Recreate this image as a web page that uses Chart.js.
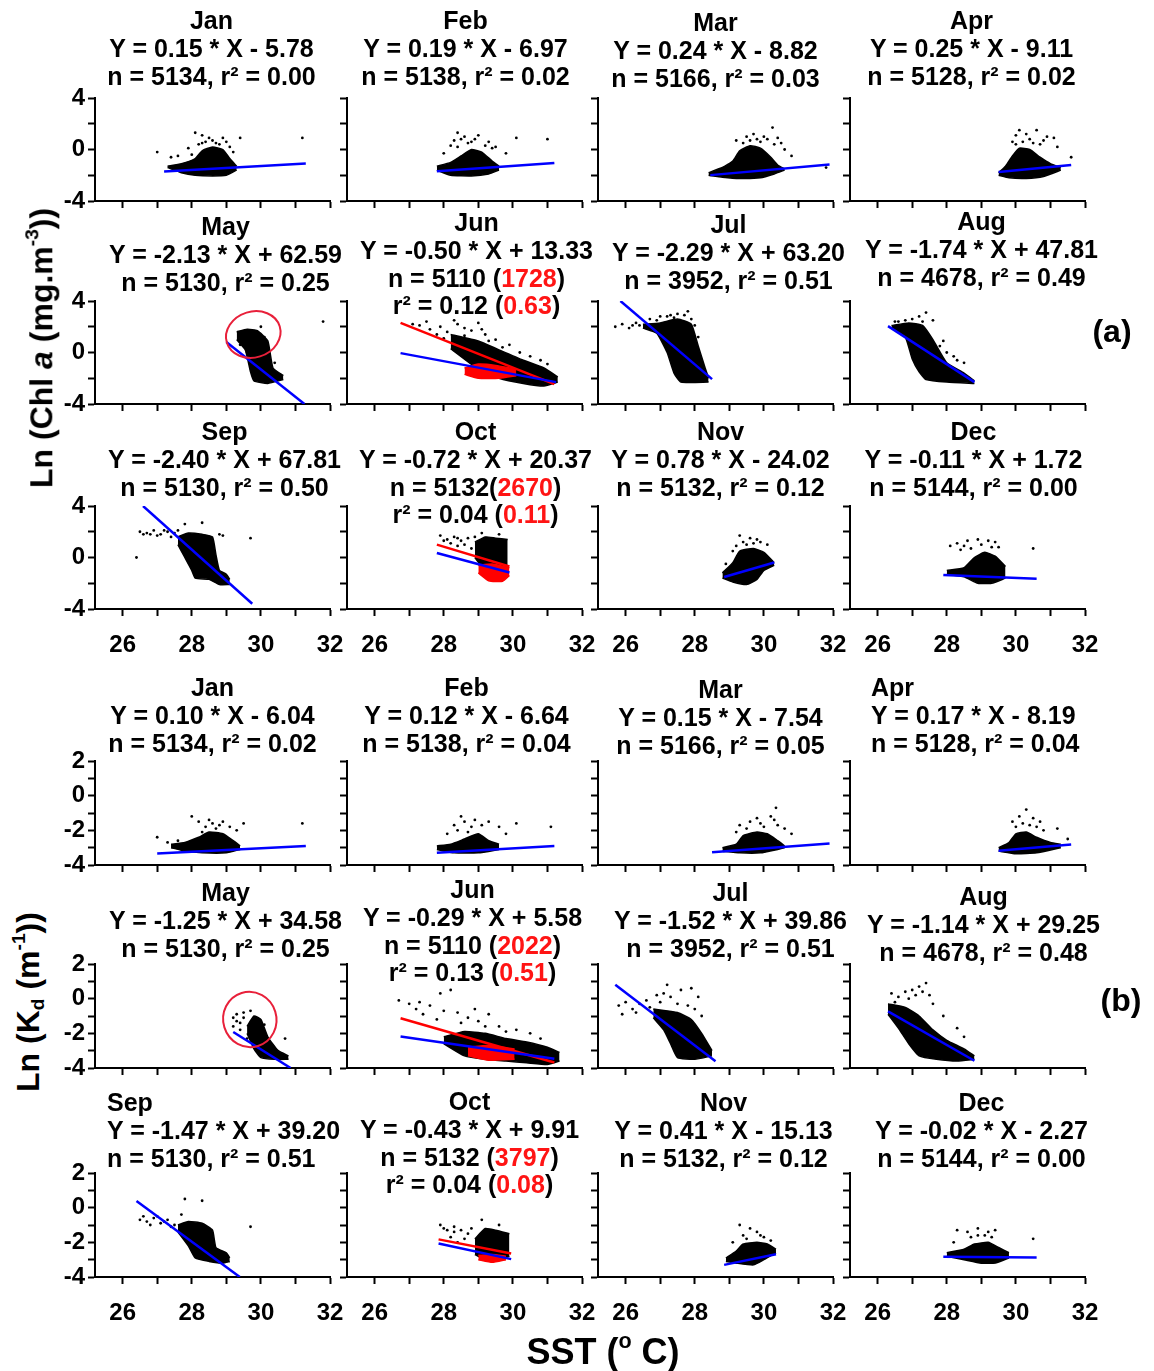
<!DOCTYPE html>
<html>
<head>
<meta charset="utf-8">
<script src="https://cdn.jsdelivr.net/npm/chart.js@4.4.1/dist/chart.umd.min.js"></script>
<style>
body{margin:0;background:#fff;}
#fig{position:relative;width:1154px;height:1371px;overflow:hidden;font-family:Arial,"Liberation Sans",sans-serif;font-weight:bold;color:#000;}
#fig canvas{position:absolute;}
.ttl{position:absolute;font-size:25px;line-height:27.7px;white-space:nowrap;z-index:2;}
.red{color:#ff1414;}
.lab{position:absolute;white-space:nowrap;line-height:1;z-index:2;}
.lab sup{font-size:0.6em;vertical-align:0.75em;}
.lab sub{font-size:0.6em;vertical-align:-0.25em;}
</style>
</head>
<body>
<div id="fig"></div>
<script>
// ---- data ----
const months = ['Jan','Feb','Mar','Apr','May','Jun','Jul','Aug','Sep','Oct','Nov','Dec'];
const xTickVals = [26, 27, 28, 29, 30, 31, 32];
const chlTickVals = [-4, -2, 0, 2, 4];
const chlTickLabels = [-4, 0, 4];
const kdTickVals = [-4, -3, -2, -1, 0, 1, 2];
const kdTickLabels = [-4, -2, 0, 2];

// (a) Ln(Chl a) vs SST
const chlEq = ['Y = 0.15 * X - 5.78','Y = 0.19 * X - 6.97','Y = 0.24 * X - 8.82','Y = 0.25 * X - 9.11',
  'Y = -2.13 * X + 62.59','Y = -0.50 * X + 13.33','Y = -2.29 * X + 63.20','Y = -1.74 * X + 47.81',
  'Y = -2.40 * X + 67.81','Y = -0.72 * X + 20.37','Y = 0.78 * X - 24.02','Y = -0.11 * X + 1.72'];
const chlStat = ['n = 5134, r² = 0.00','n = 5138, r² = 0.02','n = 5166, r² = 0.03','n = 5128, r² = 0.02',
  'n = 5130, r² = 0.25','n = 5110 ([1728])\nr² = 0.12 ([0.63])','n = 3952, r² = 0.51','n = 4678, r² = 0.49',
  'n = 5130, r² = 0.50','n = 5132([2670])\nr² = 0.04 ([0.11])','n = 5132, r² = 0.12','n = 5144, r² = 0.00'];
const chlFit = [
  [[27.2,-1.70],[31.3,-1.09]], [[27.8,-1.69],[31.2,-1.04]], [[28.45,-1.99],[31.9,-1.16]], [[29.5,-1.74],[31.6,-1.21]],
  [[29.0,0.82],[31.26,-4.0]], [[26.75,-0.05],[31.25,-2.30]], [[25.85,4.0],[28.5,-2.07]], [[26.3,2.05],[28.8,-2.30]],
  [[26.59,4.0],[29.75,-3.59]], [[27.8,0.35],[29.9,-1.16]], [[28.85,-1.52],[30.3,-0.39]], [[27.9,-1.35],[30.6,-1.65]]
];
const chlTop = [
  [[27.3,-1.3],[27.7,-1.1],[28.1,-0.7],[28.3,-0.1],[28.6,0.2],[28.9,0.0],[29.1,-0.7],[29.3,-1.3]],
  [[27.8,-1.3],[28.2,-1.0],[28.5,-0.5],[28.8,0.0],[29.1,-0.2],[29.4,-0.9],[29.6,-1.3]],
  [[28.4,-1.8],[28.8,-1.4],[29.1,-0.9],[29.3,-0.1],[29.6,0.3],[29.9,0.1],[30.2,-0.6],[30.4,-1.2],[30.6,-1.5]],
  [[29.5,-1.8],[29.7,-1.3],[29.9,-0.5],[30.1,0.1],[30.4,0.0],[30.7,-0.6],[31.0,-1.1],[31.3,-1.4]],
  [[29.3,1.6],[29.6,1.8],[29.9,1.7],[30.2,0.9],[30.35,-1.2],[30.65,-1.8]],
  [[28.2,1.4],[29.0,0.9],[29.6,0.2],[30.3,-0.6],[30.9,-1.2],[31.3,-1.9]],
  [[26.5,2.2],[27.0,2.3],[27.5,2.6],[27.9,2.2],[28.1,0.5],[28.3,-1.2],[28.4,-2.0]],
  [[26.4,2.1],[26.9,2.3],[27.3,2.1],[27.6,1.0],[28.0,-0.8],[28.5,-1.6],[28.8,-2.2]],
  [[27.6,1.6],[27.9,1.9],[28.3,1.8],[28.6,1.6],[28.7,0.2],[28.8,-1.0],[29.0,-1.3],[29.1,-1.7]],
  [[28.9,1.2],[29.2,1.6],[29.5,1.5],[29.85,1.4]],
  [[28.8,-1.2],[29.1,-0.4],[29.3,0.5],[29.7,0.7],[30.0,0.4],[30.3,-0.4]],
  [[28.0,-1.0],[28.5,-0.8],[28.8,0.0],[29.1,0.4],[29.4,0.1],[29.7,-0.7]]
];
const chlBottom = [
  [[27.3,-1.4],[27.7,-1.8],[28.1,-2.0],[28.6,-2.05],[29.0,-2.0],[29.3,-1.6]],
  [[27.8,-1.6],[28.2,-2.0],[28.8,-2.05],[29.3,-1.9],[29.6,-1.6]],
  [[28.4,-2.0],[28.8,-2.15],[29.3,-2.25],[29.9,-2.2],[30.3,-1.9],[30.6,-1.6]],
  [[29.5,-2.0],[29.8,-2.2],[30.3,-2.25],[30.8,-2.1],[31.3,-1.6]],
  [[29.3,1.0],[29.55,0.2],[29.7,-1.5],[29.8,-2.2],[30.2,-2.4],[30.65,-2.1]],
  [[28.2,0.3],[29.0,-1.3],[29.6,-2.0],[30.3,-2.4],[30.9,-2.6],[31.3,-2.3]],
  [[26.5,1.9],[26.9,1.5],[27.2,0.0],[27.4,-1.6],[27.6,-2.3],[28.4,-2.3]],
  [[26.4,1.9],[26.8,1.2],[27.0,-0.5],[27.2,-1.5],[27.4,-2.1],[28.0,-2.3],[28.8,-2.4]],
  [[27.6,1.0],[27.8,0.0],[28.0,-1.0],[28.1,-1.6],[28.5,-1.7],[28.8,-2.1],[29.1,-2.1]],
  [[28.9,0.0],[29.2,-1.0],[29.5,-1.2],[29.85,-0.9]],
  [[28.8,-1.6],[29.1,-1.9],[29.5,-2.1],[29.8,-1.7],[30.0,-1.0],[30.3,-0.6]],
  [[28.0,-1.3],[28.5,-1.5],[28.9,-2.0],[29.3,-2.0],[29.7,-1.6]]
];
const chlDots = [
  [[27.0,-0.2],[27.4,-0.6],[27.6,-0.5],[28.1,1.3],[28.3,1.1],[28.5,0.9],[28.9,0.9],[29.4,0.9],[31.2,0.9],[28.7,0.5],[29.2,-0.2],[27.9,0.1],[28.4,0.6],[28.2,0.4],[28.6,0.7],[28.8,0.4],[29.0,0.6],[28.3,0.5],[29.1,0.2],[28.0,-0.4]],
  [[28.4,1.3],[28.5,0.8],[28.2,0.3],[28.6,1.0],[28.9,0.8],[29.3,0.6],[29.5,0.2],[29.8,-0.3],[30.1,0.9],[31.0,0.8],[28.0,-0.3],[29.0,1.1],[28.7,0.5],[28.3,0.7],[28.8,0.6],[29.2,0.3],[28.4,0.2],[29.4,0.1]],
  [[30.25,1.7],[30.4,0.9],[30.6,0.0],[29.5,1.0],[29.2,0.7],[30.0,1.0],[30.8,-0.5],[29.8,0.8],[29.4,0.5],[30.3,0.4],[31.8,-1.4],[29.7,1.2],[29.9,0.6],[30.1,0.8],[29.6,0.7],[30.5,0.5]],
  [[30.1,1.5],[30.6,1.5],[30.0,1.1],[30.9,1.0],[31.1,0.9],[31.6,-0.6],[30.4,0.8],[29.9,0.6],[30.7,0.4],[31.2,0.2],[30.3,1.2],[30.2,0.6],[30.5,0.5],[30.0,0.4],[30.8,0.7]],
  [[31.8,2.4],[29.6,0.0],[29.5,1.2],[30.4,-0.8],[29.4,0.6],[30.0,2.0],[29.7,0.4],[30.1,1.2]],
  [[27.3,2.1],[27.6,1.8],[27.9,2.0],[28.1,1.6],[28.4,2.2],[28.6,1.9],[27.8,1.4],[28.8,1.7],[29.2,1.4],[29.5,1.0],[27.5,2.4],[29.9,0.6],[30.5,-0.3],[31.0,-0.9],[28.3,2.5],[29.0,2.3],[27.1,2.2],[28.0,1.1],[29.3,0.9],[29.7,0.4],[30.2,0.0],[30.8,-0.6],[28.6,1.3],[29.1,1.8]],
  [[25.7,2.0],[25.9,2.2],[26.1,1.9],[26.3,2.3],[26.4,2.1],[26.7,2.6],[26.9,2.5],[27.2,2.8],[27.5,3.0],[27.8,3.2],[27.7,2.9],[27.4,2.7],[28.0,2.1],[27.0,2.8],[26.2,2.1],[26.6,1.9],[26.8,2.0],[27.3,2.9],[27.9,2.6],[28.1,1.2]],
  [[27.2,2.8],[27.4,3.1],[27.0,2.6],[26.6,2.4],[27.6,2.5],[28.2,-0.3],[28.5,-0.8],[27.8,0.5],[28.0,0.0],[26.5,2.4],[26.8,2.5],[27.3,2.4],[27.9,0.9],[28.3,-0.6]],
  [[26.5,2.0],[26.7,1.9],[26.9,2.1],[27.1,1.8],[27.3,2.0],[27.0,1.7],[27.5,1.9],[27.4,1.6],[26.6,1.8],[27.8,2.6],[28.3,2.7],[29.7,1.5],[26.4,0.0],[28.9,1.7],[27.2,2.1],[26.8,1.8],[27.6,2.1],[28.8,1.8]],
  [[27.9,1.7],[28.1,1.4],[28.3,1.6],[28.5,1.3],[28.7,1.5],[28.2,1.1],[28.6,1.0],[28.0,1.3],[28.4,0.9],[28.8,0.7],[29.1,1.9],[29.6,1.8],[28.9,1.6],[28.4,1.5]],
  [[29.3,1.7],[29.6,1.5],[29.8,1.4],[29.4,1.2],[29.1,0.5],[30.1,1.0],[29.9,1.2],[28.9,-0.5],[29.5,1.0],[29.7,1.1],[29.2,0.9]],
  [[28.3,1.1],[28.6,1.3],[28.9,1.4],[29.2,1.3],[29.4,1.2],[28.5,0.9],[28.1,0.9],[29.5,0.8],[29.0,1.0],[30.5,0.7],[28.7,0.7],[29.3,0.8],[28.4,0.6]]
];
const chlRedFit = {5: [[26.75,2.3],[31.2,-2.45]], 9: [[27.8,1.0],[29.9,-0.7]]};
const chlRedTop = {5: [[28.6,-1.2],[29.0,-0.9],[29.5,-1.0],[30.1,-1.3]], 9: [[29.0,-0.6],[29.4,-0.5],[29.9,-0.8]]};
const chlRedBottom = {5: [[28.6,-1.7],[29.0,-2.0],[29.6,-2.0],[30.1,-1.8]], 9: [[29.0,-1.2],[29.3,-1.8],[29.7,-1.85],[29.9,-1.4]]};
const chlRing = {4: [29.78, 1.4, 0.8, 1.78, -0.3]};

// (b) Ln(Kd) vs SST
const kdEq = ['Y = 0.10 * X - 6.04','Y = 0.12 * X - 6.64','Y = 0.15 * X - 7.54','Y = 0.17 * X - 8.19',
  'Y = -1.25 * X + 34.58','Y = -0.29 * X + 5.58','Y = -1.52 * X + 39.86','Y = -1.14 * X + 29.25',
  'Y = -1.47 * X + 39.20','Y = -0.43 * X + 9.91','Y = 0.41 * X - 15.13','Y = -0.02 * X - 2.27'];
const kdStat = ['n = 5134, r² = 0.02','n = 5138, r² = 0.04','n = 5166, r² = 0.05','n = 5128, r² = 0.04',
  'n = 5130, r² = 0.25','n = 5110 ([2022])\nr² = 0.13 ([0.51])','n = 3952, r² = 0.51','n = 4678, r² = 0.48',
  'n = 5130, r² = 0.51','n = 5132 ([3797])\nr² = 0.04 ([0.08])','n = 5132, r² = 0.12','n = 5144, r² = 0.00'];
const kdFit = [
  [[27.0,-3.34],[31.3,-2.91]], [[27.8,-3.30],[31.2,-2.90]], [[28.5,-3.27],[31.9,-2.76]], [[29.5,-3.18],[31.6,-2.82]],
  [[29.2,-1.92],[30.86,-4.0]], [[26.75,-2.18],[31.2,-3.47]], [[25.7,0.80],[28.6,-3.61]], [[26.3,-0.73],[28.8,-3.58]],
  [[26.4,0.39],[29.39,-4.0]], [[27.85,-2.07],[29.95,-2.97]], [[28.85,-3.30],[30.35,-2.69]], [[27.9,-2.83],[30.6,-2.88]]
];
const kdTop = [
  [[27.4,-2.8],[27.8,-2.7],[28.2,-2.4],[28.5,-2.1],[28.9,-2.2],[29.2,-2.6],[29.4,-2.9]],
  [[27.8,-2.9],[28.2,-2.8],[28.6,-2.5],[29.0,-2.2],[29.3,-2.6],[29.6,-2.8]],
  [[28.8,-3.0],[29.2,-2.8],[29.4,-2.3],[29.8,-2.1],[30.1,-2.2],[30.4,-2.6],[30.6,-2.9]],
  [[29.5,-3.0],[29.8,-2.7],[30.0,-2.2],[30.3,-2.1],[30.6,-2.4],[31.0,-2.7],[31.3,-2.8]],
  [[29.6,-1.6],[29.8,-1.0],[30.0,-1.2],[30.2,-2.2],[30.5,-3.0],[30.8,-3.3]],
  [[28.0,-2.2],[28.6,-1.9],[29.2,-2.0],[29.8,-2.3],[30.4,-2.5],[31.0,-2.8],[31.35,-3.1]],
  [[26.8,-0.6],[27.5,-0.8],[27.9,-1.2],[28.2,-2.0],[28.5,-3.0]],
  [[26.3,-0.3],[26.8,-0.5],[27.2,-1.0],[27.6,-1.8],[28.0,-2.4],[28.5,-2.9],[28.8,-3.3]],
  [[27.6,-1.0],[27.9,-0.8],[28.3,-0.9],[28.6,-1.3],[28.7,-2.3],[29.0,-2.6],[29.1,-2.9]],
  [[28.9,-1.8],[29.2,-1.2],[29.5,-1.3],[29.9,-1.5]],
  [[28.9,-2.9],[29.2,-2.5],[29.4,-2.1],[29.8,-2.0],[30.1,-2.1],[30.35,-2.4]],
  [[28.0,-2.6],[28.5,-2.4],[28.8,-2.1],[29.2,-2.0],[29.5,-2.3],[29.8,-2.6]]
];
const kdBottom = [
  [[27.4,-3.0],[27.8,-3.2],[28.3,-3.3],[29.0,-3.3],[29.4,-3.1]],
  [[27.8,-3.1],[28.3,-3.3],[29.0,-3.3],[29.6,-3.1]],
  [[28.8,-3.2],[29.3,-3.3],[29.9,-3.3],[30.4,-3.1],[30.6,-3.0]],
  [[29.5,-3.2],[30.0,-3.35],[30.6,-3.3],[31.3,-3.0]],
  [[29.6,-2.0],[29.8,-2.9],[30.0,-3.4],[30.4,-3.5],[30.8,-3.5]],
  [[28.0,-2.6],[28.6,-3.3],[29.2,-3.5],[29.8,-3.6],[30.4,-3.7],[31.0,-3.8],[31.35,-3.6]],
  [[26.8,-1.1],[27.1,-1.8],[27.3,-2.6],[27.5,-3.4],[28.0,-3.5],[28.5,-3.3]],
  [[26.3,-0.9],[26.6,-1.7],[26.9,-2.6],[27.2,-3.3],[27.7,-3.5],[28.3,-3.6],[28.8,-3.5]],
  [[27.6,-1.4],[27.9,-2.2],[28.1,-2.9],[28.5,-3.1],[28.9,-3.2],[29.1,-3.1]],
  [[28.9,-2.7],[29.2,-3.0],[29.6,-3.0],[29.9,-2.8]],
  [[28.9,-3.1],[29.2,-3.2],[29.7,-3.3],[30.0,-3.0],[30.35,-2.6]],
  [[28.0,-2.8],[28.5,-3.0],[29.0,-3.2],[29.4,-3.2],[29.8,-2.9]]
];
const kdDots = [
  [[27.0,-2.4],[27.3,-2.7],[27.6,-2.6],[28.0,-1.2],[28.2,-1.5],[28.6,-1.6],[28.9,-1.5],[29.5,-1.6],[31.2,-1.6],[29.3,-2.0],[28.4,-1.8],[28.7,-1.9],[28.3,-2.1],[28.8,-1.7],[29.1,-1.8],[28.5,-1.4]],
  [[28.5,-1.2],[28.6,-1.5],[28.3,-1.7],[28.9,-1.4],[29.3,-1.5],[29.6,-1.8],[30.1,-1.6],[31.1,-1.8],[29.8,-2.2],[28.1,-2.2],[28.8,-1.8],[28.4,-2.0],[29.1,-1.7],[28.7,-2.1]],
  [[30.35,-0.7],[30.3,-1.4],[29.3,-1.7],[29.6,-1.5],[29.9,-1.6],[30.6,-1.9],[30.2,-1.2],[29.2,-2.1],[30.8,-2.2],[29.8,-1.3],[30.0,-1.8],[29.5,-1.9],[30.4,-1.7]],
  [[30.1,-1.2],[30.3,-0.8],[30.5,-1.3],[30.7,-1.5],[31.2,-1.9],[29.9,-1.5],[30.8,-2.0],[31.5,-2.5],[30.2,-1.6],[30.0,-1.8],[30.4,-1.7],[30.6,-1.8]],
  [[29.2,-1.1],[29.3,-0.9],[29.5,-0.8],[29.4,-1.4],[29.7,-0.7],[29.2,-1.6],[29.6,-2.3],[30.7,-2.3],[30.1,-1.5],[29.5,-1.1],[29.4,-1.8],[29.3,-1.3]],
  [[26.7,-0.1],[27.0,-0.3],[27.3,-0.2],[27.6,-0.4],[27.9,0.3],[28.2,0.5],[28.0,-0.7],[27.4,-0.9],[28.4,-0.8],[28.7,-1.1],[29.0,-1.3],[29.3,-0.9],[28.9,-0.6],[27.8,-1.2],[29.6,-1.6],[30.1,-1.8],[30.5,-2.0],[27.2,-0.6],[28.5,-1.4],[29.2,-1.6],[29.8,-1.9],[30.8,-2.3]],
  [[25.8,-0.4],[26.0,-0.2],[26.2,-0.6],[26.4,-0.3],[26.6,-0.1],[26.9,0.2],[27.1,0.3],[27.3,0.1],[27.6,0.5],[27.9,0.6],[28.1,0.1],[27.8,-0.4],[27.2,0.8],[26.3,-0.8],[25.9,-0.9],[28.2,-1.0],[26.7,-0.5],[27.0,-0.2],[27.5,-0.3],[28.0,-0.6]],
  [[26.4,0.3],[26.6,0.1],[26.8,0.4],[27.0,0.5],[27.2,0.7],[27.4,0.9],[27.3,0.4],[27.6,-0.3],[27.9,-1.0],[28.3,-1.7],[28.5,-2.2],[26.5,-0.2],[26.9,0.0],[27.1,0.2],[27.5,0.2]],
  [[26.5,-0.7],[26.7,-0.8],[26.9,-0.6],[27.1,-0.9],[27.3,-0.7],[27.5,-1.0],[26.8,-1.0],[27.0,-0.5],[27.7,-0.4],[28.3,0.4],[27.8,0.5],[29.7,-1.1],[26.6,-0.5],[27.2,-0.8],[27.4,-1.1]],
  [[27.9,-1.0],[28.1,-1.3],[28.3,-1.4],[28.5,-1.3],[28.7,-1.5],[28.2,-1.7],[28.6,-1.8],[28.0,-1.2],[29.1,-0.7],[29.6,-1.0],[28.4,-2.0],[28.8,-1.2],[28.3,-1.1]],
  [[29.3,-1.0],[29.6,-1.2],[29.8,-1.4],[29.4,-1.6],[30.0,-1.7],[29.1,-2.0],[30.2,-1.9],[29.5,-1.8],[29.9,-1.6]],
  [[28.3,-1.3],[28.6,-1.4],[28.9,-1.2],[29.2,-1.4],[29.4,-1.3],[29.1,-1.6],[28.2,-2.0],[30.5,-1.8],[28.7,-1.7],[28.9,-1.6],[29.3,-1.7]]
];
const kdRedFit = {5: [[26.75,-1.13],[31.2,-3.68]], 9: [[27.85,-1.83],[29.95,-2.65]]};
const kdRedTop = {5: [[28.7,-2.8],[29.3,-2.7],[30.05,-2.9]], 9: [[29.0,-2.75],[29.4,-2.7],[29.8,-2.8]]};
const kdRedBottom = {5: [[28.7,-3.3],[29.3,-3.55],[30.05,-3.5]], 9: [[29.0,-3.0],[29.4,-3.15],[29.8,-3.0]]};
const kdRing = {4: [29.68, -1.2, 0.77, 1.6, -0.3]};

// ---- layout ----
const colLeft = [95, 347, 598, 850];
const plotW = 235;
const yAxisW = 45, padTop = 14, padRight = 22, xAxisH = 56;
const fontFam = 'Arial, "Liberation Sans", sans-serif';

const sections = [
  {rowTop: [98, 301, 506], h: 103, min: -4, max: 4, ticks: chlTickVals, labels: chlTickLabels,
   eq: chlEq, stat: chlStat, fit: chlFit, top: chlTop, bottom: chlBottom, dots: chlDots,
   redFit: chlRedFit, redTop: chlRedTop, redBottom: chlRedBottom, ring: chlRing,
   titleY: [21,21,23,21, 227,223,225,222, 432,432,432,432],
   titleDx: [-1,1,0,4, 13,12,13,14, 12,11,5,6], titleLeft: {}},
  {rowTop: [761, 964, 1173], h: 104, min: -4, max: 2, ticks: kdTickVals, labels: kdTickLabels,
   eq: kdEq, stat: kdStat, fit: kdFit, top: kdTop, bottom: kdBottom, dots: kdDots,
   redFit: kdRedFit, redTop: kdRedTop, redBottom: kdRedBottom, ring: kdRing,
   titleY: [688,688,690,688, 893,890,893,897, 1103,1102,1103,1103],
   titleDx: [0,2,5,0, 13,8,15,16, 0,5,8,14], titleLeft: {3: 871, 8: 107}}
];

const fig = document.getElementById('fig');
const pts = a => a.map(p => ({x: p[0], y: p[1]}));

const ringPlugin = {
  id: 'ring',
  afterDatasetsDraw(chart, args, opts) {
    const e = opts.item;
    if (!e) return;
    const xs = chart.scales.x, ys = chart.scales.y, ctx = chart.ctx;
    const cx = xs.getPixelForValue(e[0]), cy = ys.getPixelForValue(e[1]);
    const rx = Math.abs(xs.getPixelForValue(e[0] + e[2]) - cx);
    const ry = Math.abs(ys.getPixelForValue(e[1] + e[3]) - cy);
    ctx.save();
    ctx.beginPath();
    ctx.ellipse(cx, cy, rx, ry, e[4], 0, Math.PI * 2);
    ctx.strokeStyle = '#e8203a';
    ctx.lineWidth = 2;
    ctx.stroke();
    ctx.restore();
  }
};

function cloud(top, bottom, color, order) {
  return [
    {data: pts(top), fill: '+1', backgroundColor: color, borderColor: color, borderWidth: 1.5, pointRadius: 0, tension: 0.15, order: order},
    {data: pts(bottom), fill: false, borderColor: color, borderWidth: 1.5, pointRadius: 0, tension: 0.15, order: order}
  ];
}

function drawPanel(sec, i) {
  const row = Math.floor(i / 4), col = i % 4;
  const left = colLeft[col], top = sec.rowTop[row];
  const cv = document.createElement('canvas');
  cv.width = yAxisW + plotW + padRight;
  cv.height = padTop + sec.h + xAxisH;
  cv.style.left = (left - yAxisW) + 'px';
  cv.style.top = (top - padTop) + 'px';
  fig.appendChild(cv);

  const ds = [];
  ds.push({data: pts(sec.fit[i]), borderColor: '#0000ff', borderWidth: 2.5, pointRadius: 0, order: 0});
  if (sec.redFit[i]) ds.push({data: pts(sec.redFit[i]), borderColor: '#ff0000', borderWidth: 2.5, pointRadius: 0, order: 1});
  ds.push({data: pts(sec.dots[i]), showLine: false, pointRadius: 1.4, pointBackgroundColor: '#000', pointBorderWidth: 0, order: 3});
  if (sec.redTop[i]) ds.push(...cloud(sec.redTop[i], sec.redBottom[i], '#ff0000', 2));
  ds.push(...cloud(sec.top[i], sec.bottom[i], '#000000', 4));

  const tickFont = {family: fontFam, size: 24, weight: 'bold'};
  const gridOpt = {display: true, drawOnChartArea: false, drawTicks: true, tickLength: 7, tickWidth: 2, tickColor: '#000'};
  const borderOpt = {display: true, color: '#000', width: 2};

  new Chart(cv, {
    type: 'line',
    data: {datasets: ds},
    options: {
      responsive: false,
      animation: false,
      events: [],
      layout: {padding: {top: padTop, right: padRight, left: 0, bottom: 0}},
      plugins: {legend: {display: false}, tooltip: {enabled: false}, ring: {item: sec.ring[i]}},
      scales: {
        x: {
          type: 'linear', min: 25.2, max: 32,
          afterBuildTicks: s => { s.ticks = xTickVals.map(v => ({value: v})); },
          ticks: {callback: v => (row === 2 && v % 2 === 0) ? String(v) : '', font: tickFont, color: '#000', padding: 15, maxRotation: 0, autoSkip: false},
          grid: gridOpt, border: borderOpt,
          afterFit: s => { s.height = xAxisH; s.paddingLeft = 0; s.paddingRight = 0; }
        },
        y: {
          type: 'linear', min: sec.min, max: sec.max,
          afterBuildTicks: s => { s.ticks = sec.ticks.map(v => ({value: v})); },
          ticks: {callback: v => (col === 0 && sec.labels.includes(v)) ? String(v) : '', font: tickFont, color: '#000', padding: 3, autoSkip: false},
          grid: gridOpt, border: borderOpt,
          afterFit: s => { s.width = yAxisW; s.paddingTop = 0; s.paddingBottom = 0; }
        }
      }
    },
    plugins: [ringPlugin]
  });

  // panel title: month, equation, statistics
  const lines = [months[i], sec.eq[i]].concat(sec.stat[i].split('\n'));
  const div = document.createElement('div');
  div.className = 'ttl';
  div.innerHTML = lines.map(l => l.replace(/\[([^\]]+)\]/g, '<span class="red">$1</span>')).join('<br>');
  div.style.top = (sec.titleY[i] - 13.85) + 'px';
  if (sec.titleLeft[i] !== undefined) {
    div.style.left = sec.titleLeft[i] + 'px';
    div.style.textAlign = 'left';
  } else {
    div.style.width = '340px';
    div.style.textAlign = 'center';
    div.style.left = (left + plotW / 2 - 170 + sec.titleDx[i]) + 'px';
  }
  fig.appendChild(div);
}

sections.forEach(sec => months.forEach((m, i) => drawPanel(sec, i)));

function label(html, cx, cy, size, rotate) {
  const d = document.createElement('div');
  d.className = 'lab';
  d.innerHTML = html;
  d.style.fontSize = size + 'px';
  d.style.left = cx + 'px';
  d.style.top = cy + 'px';
  d.style.transform = 'translate(-50%,-50%)' + (rotate ? ' rotate(-90deg)' : '');
  fig.appendChild(d);
}
label('Ln (Chl <i>a</i> (mg.m<sup>-3</sup>))', 40, 348, 32, true);
label('Ln (K<sub>d</sub> (m<sup>-1</sup>))', 28, 1002, 32, true);
label('(a)', 1112, 331, 32, false);
label('(b)', 1121, 1000, 32, false);
label('SST (<sup>o</sup> C)', 603, 1350, 36, false);
</script>
</body>
</html>
